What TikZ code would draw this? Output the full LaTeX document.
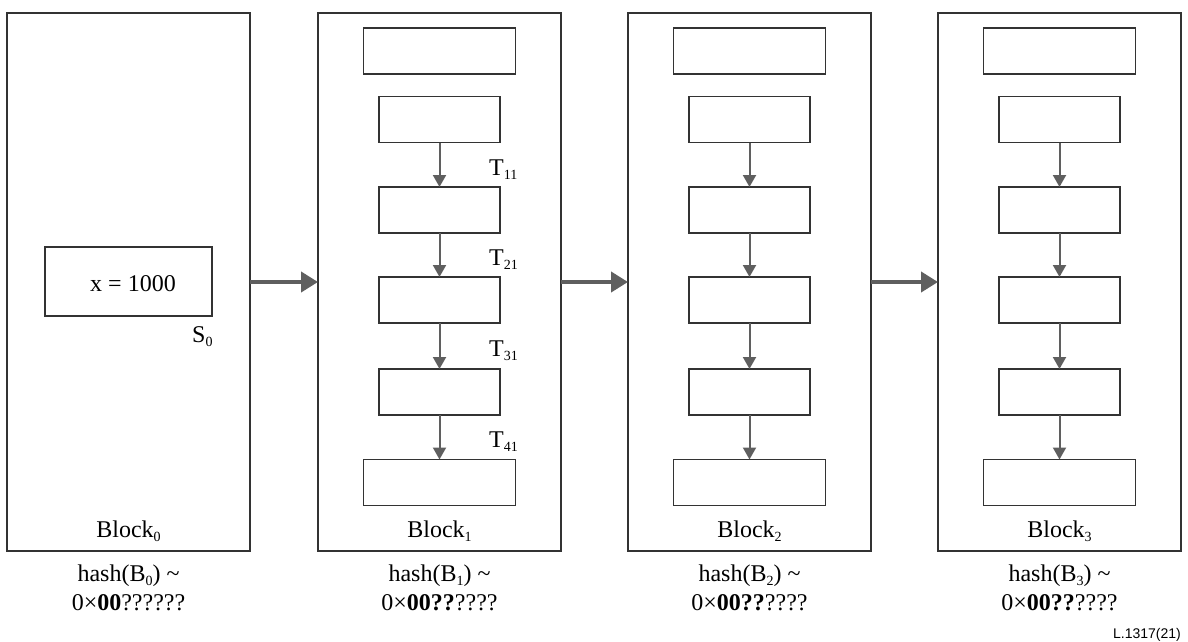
\documentclass[tikz,border=0pt]{standalone}
\usepackage{fontspec}
\setmainfont{Liberation Serif}
\newfontfamily\refsans{Liberation Sans}
\usetikzlibrary{arrows.meta}
\definecolor{linec}{HTML}{333333}
\definecolor{arrc}{HTML}{5F5F5F}
\newcommand\lowsub[1]{\raisebox{-0.2em}{\fontsize{14}{14}\selectfont #1}}
\begin{document}
\begin{tikzpicture}[x=1pt,y=-1pt,
  blk/.style={draw=linec, line width=1.8pt, rectangle, minimum width=243pt, minimum height=538pt, inner sep=0pt, outer sep=0pt},
  wide/.style={draw=linec, line width=1.8pt, rectangle, minimum width=152pt, minimum height=46pt, inner sep=0pt, outer sep=0pt},
  narrow/.style={draw=linec, line width=1.8pt, rectangle, minimum width=121pt, minimum height=46pt, inner sep=0pt, outer sep=0pt},
  txt/.style={font=\fontsize{24}{28}\selectfont, inner sep=0pt, anchor=base},
  bigarrow/.style={draw=arrc, line width=4pt, -{Triangle[length=17pt,width=20pt]}, color=arrc},
  thinarrow/.style={draw=arrc, line width=2pt, -{Triangle[length=12pt,width=13pt]}, color=arrc}
]
\useasboundingbox (0,0) rectangle (1188,642);
% blocks
\node[blk] (B0) at (128.5,282) {};
\node[blk] (B1) at (439.5,282) {};
\node[blk] (B2) at (749.5,282) {};
\node[blk] (B3) at (1059.5,282) {};
% block 0 state
\node[draw=linec, line width=1.8pt, rectangle, minimum width=167pt, minimum height=69pt, inner sep=0pt] (S0box) at (128.5,281.5) {};
\node[txt] (xval) at (133,291) {x = 1000};
\node[txt, anchor=base west] (S0) at (192,342) {S\lowsub{0}};
% inner boxes of blocks 1-3
\foreach \i/\cx in {1/439.5, 2/749.5, 3/1059.5}{
  \node[wide] (b\i a) at (\cx,51) {};
  \node[narrow] (b\i b) at (\cx,119.5) {};
  \node[narrow] (b\i c) at (\cx,210) {};
  \node[narrow] (b\i d) at (\cx,300) {};
  \node[narrow] (b\i e) at (\cx,392) {};
  \node[wide] (b\i f) at (\cx,482.5) {};
  \draw[thinarrow] (b\i b.south) -- (b\i c.north);
  \draw[thinarrow] (b\i c.south) -- (b\i d.north);
  \draw[thinarrow] (b\i d.south) -- (b\i e.north);
  \draw[thinarrow] (b\i e.south) -- (b\i f.north);
}
% transaction labels
\node[txt, anchor=base west] (T11) at (489,175) {T\lowsub{11}};
\node[txt, anchor=base west] (T21) at (489,265) {T\lowsub{21}};
\node[txt, anchor=base west] (T31) at (489,356) {T\lowsub{31}};
\node[txt, anchor=base west] (T41) at (489,447) {T\lowsub{41}};
% chain arrows
\draw[bigarrow] (B0.east) -- (B1.west);
\draw[bigarrow] (B1.east) -- (B2.west);
\draw[bigarrow] (B2.east) -- (B3.west);
% block labels
\node[txt] (L0) at (128.5,537) {Block\lowsub{0}};
\node[txt] (L1) at (439.5,537) {Block\lowsub{1}};
\node[txt] (L2) at (749.5,537) {Block\lowsub{2}};
\node[txt] (L3) at (1059.5,537) {Block\lowsub{3}};
% hashes
\node[txt] (H0a) at (128.5,581) {hash(B\lowsub{0}) \textasciitilde};
\node[txt] (H0b) at (128.5,610) {0×\textbf{00}??????};
\node[txt] (H1a) at (439.5,581) {hash(B\lowsub{1}) \textasciitilde};
\node[txt] (H1b) at (439.5,610) {0×\textbf{00??}????};
\node[txt] (H2a) at (749.5,581) {hash(B\lowsub{2}) \textasciitilde};
\node[txt] (H2b) at (749.5,610) {0×\textbf{00??}????};
\node[txt] (H3a) at (1059.5,581) {hash(B\lowsub{3}) \textasciitilde};
\node[txt] (H3b) at (1059.5,610) {0×\textbf{00??}????};
% figure id
\node[inner sep=0pt, anchor=base east, font=\refsans\fontsize{14}{16}\selectfont] (fig) at (1181,638) {L.1317(21)};
\end{tikzpicture}
\end{document}
